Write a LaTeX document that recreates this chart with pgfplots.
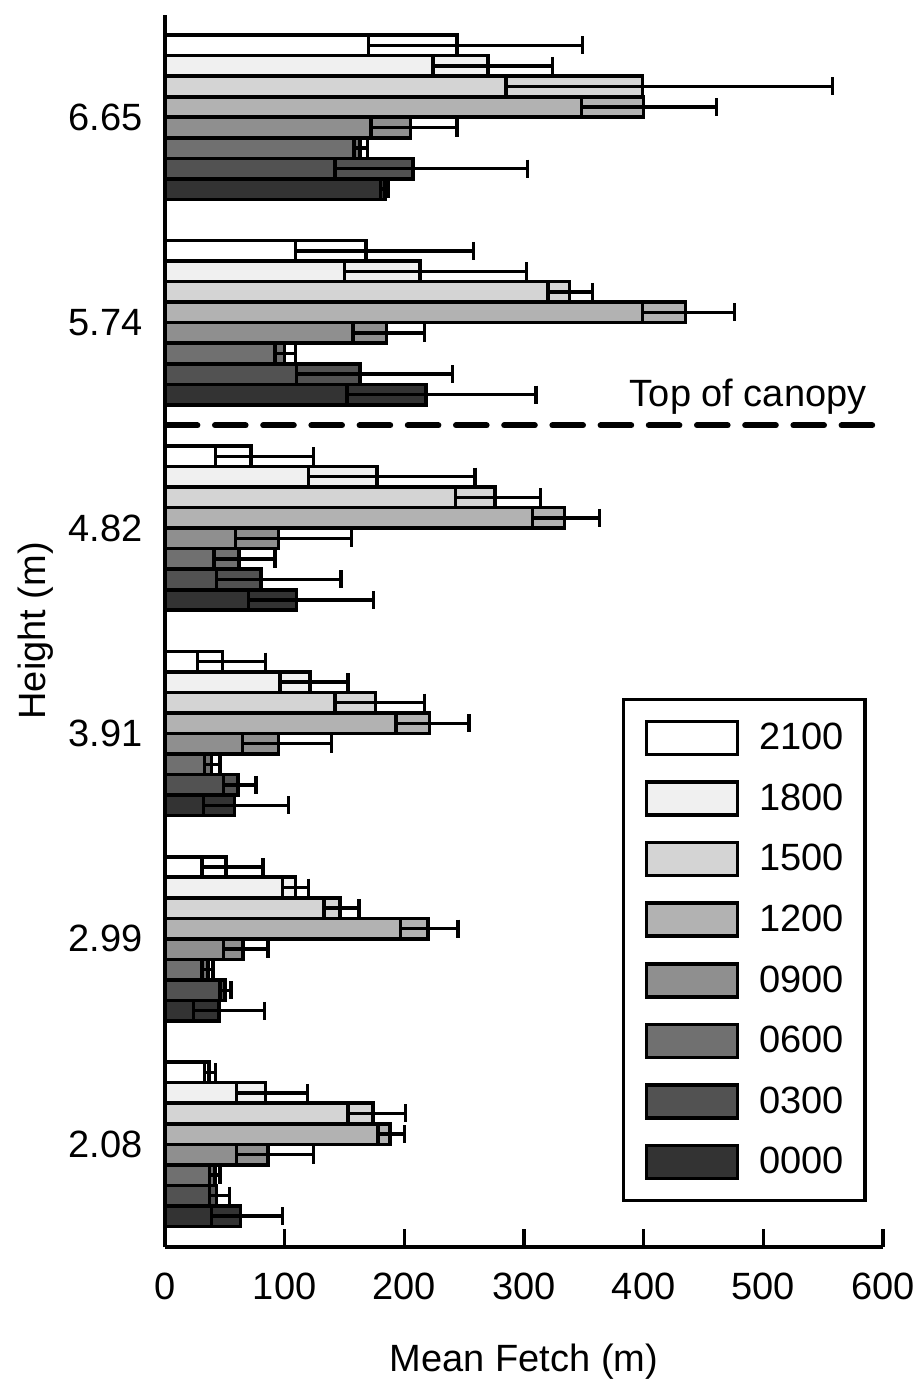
\documentclass[border=0pt]{standalone}
\usepackage{pgfplots}
\usepackage{pgfplotstable}
\pgfplotsset{compat=1.18}
\usepackage{fontspec}
\setmainfont{Liberation Sans}

\definecolor{c2100}{gray}{1.00}
\definecolor{c1800}{gray}{0.94}
\definecolor{c1500}{gray}{0.83}
\definecolor{c1200}{gray}{0.70}
\definecolor{c0900}{gray}{0.56}
\definecolor{c0600}{gray}{0.44}
\definecolor{c0300}{gray}{0.32}
\definecolor{c0000}{gray}{0.20}

% g: height index (1=2.08 ... 6=6.65); m: mean fetch; lo/hi: error minus/plus
\pgfplotstableread{
g m lo hi
6 244 74 105
5 168 59 90
4 72 30 52
3 48 21 36
2 51 20 31
1 37 4 5
}\tA
\pgfplotstableread{
g m lo hi
6 270 46 54
5 213 63 89
4 177 57 82
3 121 25 32
2 109 11 11
1 84 24 35
}\tB
\pgfplotstableread{
g m lo hi
6 399 114 159
5 338 18 19
4 276 33 38
3 176 34 41
2 146 13 16
1 174 21 27
}\tC
\pgfplotstableread{
g m lo hi
6 400 52 61
5 435 36 41
4 334 27 29
3 221 28 33
2 220 23 25
1 188 10 12
}\tD
\pgfplotstableread{
g m lo hi
6 205 33 39
5 185 28 32
4 95 36 61
3 95 30 44
2 65 16 21
1 86 26 38
}\tE
\pgfplotstableread{
g m lo hi
6 163 5 6
5 100 8 9
4 62 21 30
3 39 6 7
2 36 5 4
1 42 5 4
}\tF
\pgfplotstableread{
g m lo hi
6 207 65 96
5 163 53 77
4 80 37 67
3 61 12 15
2 50 4 5
1 43 6 11
}\tG
\pgfplotstableread{
g m lo hi
6 184 4 3
5 218 66 92
4 110 40 64
3 58 26 45
2 45 21 38
1 63 24 35
}\tH

\pgfplotsset{
  bs/.style={xbar, bar shift=0pt, bar width=0.1, fill=#1, draw=black, line width=1.8pt,
    legend image code/.code={\draw[##1] (0pt,-8.25pt) rectangle (45.5pt,8.25pt);},
    error bars/.cd, x dir=both, x explicit, error mark=|,
    error bar style={line width=1.7pt, black},
    error mark options={line width=1.7pt, black, mark size=4.5pt}},
}

\begin{document}
\begin{tikzpicture}
\begin{axis}[
  scale only axis, width=359pt, height=616.2pt,
  xmin=0, xmax=600, ymin=0.5, ymax=6.5,
  axis lines=left, axis line style={-, line width=1.7pt},
  xtick={0,100,...,600},
  ytick={1,2,3,4,5,6}, yticklabels={2.08,2.99,3.91,4.82,5.74,6.65},
  tick align=inside, major tick length=9pt,
  x tick style={line width=1.6pt, black},
  y tick style={draw=none},
  font=\fontsize{19}{23}\selectfont,
  /pgf/number format/assume math mode=true,
  xticklabel style={inner sep=0pt, anchor=north, yshift=-13pt},
  yticklabel style={inner sep=0pt, anchor=east, xshift=-11pt},
  xlabel={Mean Fetch (m)}, ylabel={Height (m)},
  xlabel style={at={(axis description cs:0.5,0)}, anchor=base, yshift=-62pt},
  ylabel style={at={(axis description cs:-0.167,0.5)}, anchor=base},
  legend cell align=left,
  legend style={at={(0.6365,0.4455)}, anchor=north west, draw=black, line width=1.7pt,
    inner xsep=10.5pt, inner ysep=10pt, row sep=12pt, column sep=10pt,
    nodes={inner sep=0pt}, font=\fontsize{19}{23}\selectfont},
  clip=false,
]
\addplot[bs=c2100] table[x=m, y expr=\thisrow{g}+0.35, x error minus=lo, x error plus=hi] {\tA};
\addplot[bs=c1800] table[x=m, y expr=\thisrow{g}+0.25, x error minus=lo, x error plus=hi] {\tB};
\addplot[bs=c1500] table[x=m, y expr=\thisrow{g}+0.15, x error minus=lo, x error plus=hi] {\tC};
\addplot[bs=c1200] table[x=m, y expr=\thisrow{g}+0.05, x error minus=lo, x error plus=hi] {\tD};
\addplot[bs=c0900] table[x=m, y expr=\thisrow{g}-0.05, x error minus=lo, x error plus=hi] {\tE};
\addplot[bs=c0600] table[x=m, y expr=\thisrow{g}-0.15, x error minus=lo, x error plus=hi] {\tF};
\addplot[bs=c0300] table[x=m, y expr=\thisrow{g}-0.25, x error minus=lo, x error plus=hi] {\tG};
\addplot[bs=c0000] table[x=m, y expr=\thisrow{g}-0.35, x error minus=lo, x error plus=hi] {\tH};
\legend{2100,1800,1500,1200,0900,0600,0300,0000}
\draw[line width=3pt, dash pattern=on 15.3pt off 8.8pt, line cap=round] (axis cs:1.5,4.5) -- (axis cs:597,4.5);
\node[anchor=base east, inner sep=0pt, font=\fontsize{19}{23}\selectfont] at (axis cs:586.6,4.59) {Top of canopy};
\coordinate (O) at (rel axis cs:0,0);
\end{axis}
\pgfresetboundingbox
\path[use as bounding box] ([shift={(-82.5pt,-66pt)}]O) rectangle ++(460pt,689.5pt);
\end{tikzpicture}
\end{document}
